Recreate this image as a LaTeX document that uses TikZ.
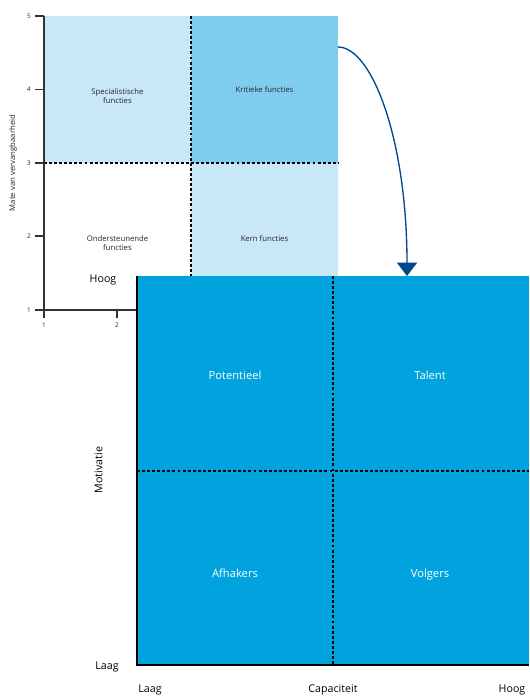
\documentclass[tikz,border=0pt]{standalone}
\usepackage{fontspec}
\setmainfont{Open Sans}
\usetikzlibrary{arrows.meta}
\definecolor{lightq}{HTML}{C8E8F7}
\definecolor{midq}{HTML}{7FCDEE}
\definecolor{bigq}{HTML}{00A3DD}
\definecolor{arrowc}{HTML}{00478F}
\tikzset{
  small/.style={font=\fontsize{5.8}{6.9}\selectfont, align=center, text=black!85},
  tick/.style={font=\fontsize{4.8}{5.5}\selectfont, text=black!85},
  quad/.style={font=\fontsize{8.4}{10}\selectfont, text=white, text height=1.6ex, text depth=0.4ex},
  axlab/.style={font=\fontsize{8}{9.5}\selectfont, text=black, text height=1.6ex, text depth=0.4ex},
  dashline/.style={dash pattern=on 2.2pt off 1.6pt, line width=0.8pt, black},
  axline/.style={line width=0.8pt, black!80},
}
\begin{document}
\begin{tikzpicture}[x=0.75pt,y=-0.75pt]
\useasboundingbox (0,0) rectangle (529,696);
% top chart quadrants
\fill[lightq] (44,16) rectangle (191,163);
\fill[midq] (191,16) rectangle (338,163);
\fill[lightq] (191,163) rectangle (338,276);
\draw[dashline] (44,163) -- (338,163);
\draw[dashline] (191,16) -- (191,276);
% axes
\draw[axline] (44,16) -- (44,310) -- (137,310);
\foreach \v/\yy in {5/16,4/89.5,3/163,2/236,1/310}{
  \draw[axline] (35,\yy) -- (44,\yy);
  \node[tick] (ty\v) at (29,\yy) {\v};
}
\foreach \v/\xx in {1/44,2/117}{
  \draw[axline] (\xx,310) -- (\xx,318);
  \node[tick] (tx\v) at (\xx,325) {\v};
}
\node[small, rotate=90] (ylab) at (13,163) {Mate van vervangbaarheid};
\node[small] (spec) at (117.5,96) {Specialistische\\functies};
\node[small] (krit) at (264.5,90) {Kritieke functies};
\node[small] (onder) at (117.5,243) {Ondersteunende\\functies};
\node[small] (kern) at (264.5,239) {Kern functies};
% big matrix
\fill[bigq] (137,276) rectangle (529,665);
\draw[dashline] (333,276) -- (333,665);
\draw[dashline] (137,471) -- (529,471);
\draw[line width=1.1pt, black] (137,276) -- (137,665) -- (529,665);
\node[quad] (pot) at (235,375) {Potentieel};
\node[quad] (tal) at (430,375) {Talent};
\node[quad] (afh) at (235,573) {Afhakers};
\node[quad] (vol) at (430,573) {Volgers};
\node[axlab, rotate=90] (mot) at (98,470) {Motivatie};
\node[axlab] (hoog1) at (103,278) {Hoog};
\node[axlab] (laag1) at (107,665) {Laag};
\node[axlab] (laag2) at (150,688) {Laag};
\node[axlab] (cap) at (333,688) {Capaciteit};
\node[axlab] (hoog2) at (512,688) {Hoog};
% arrow
\coordinate (as) at (338,47);
\coordinate (ae) at (407,276);
\draw[arrowc, line width=1pt, -{Triangle[width=15pt,length=10pt]}] (as) .. controls (372,47) and (407,140) .. (ae);
\end{tikzpicture}
\end{document}
